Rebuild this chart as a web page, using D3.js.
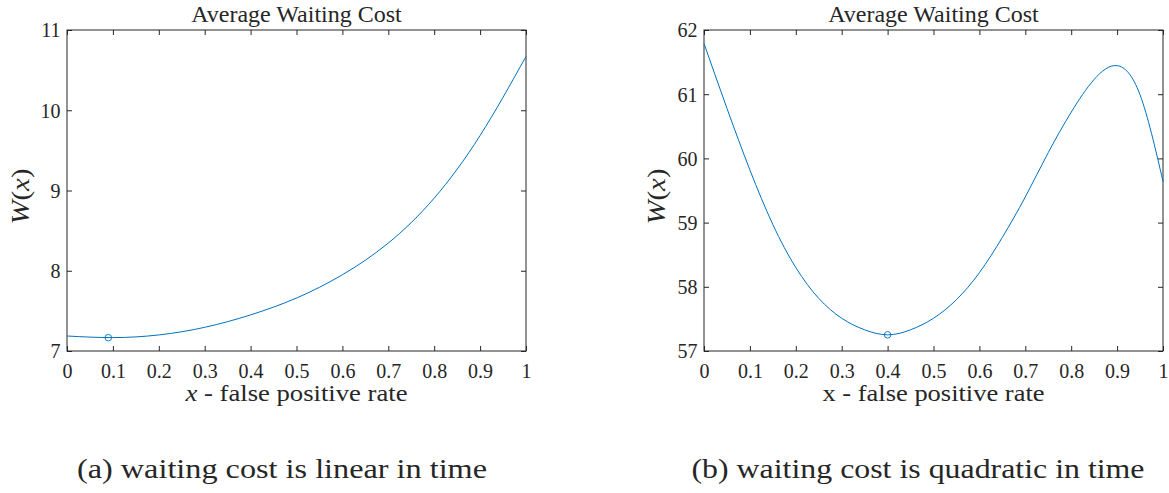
<!DOCTYPE html>
<html>
<head>
<meta charset="utf-8">
<script src="https://cdn.jsdelivr.net/npm/d3@7"></script>
<style>
  html, body { margin: 0; padding: 0; background: #fff; }
  svg { display: block; }
  text { font-family: "Liberation Serif", Tinos, "Times New Roman", Times, serif; fill: #262626; }
</style>
</head>
<body>
<svg id="fig" width="1169" height="493"></svg>
<script>
// Average waiting cost W(x) sampled against the false positive rate x
const xTickValues = [0, 0.1, 0.2, 0.3, 0.4, 0.5, 0.6, 0.7, 0.8, 0.9, 1];

// (a) waiting cost linear in time
const linearX = [0, 0.1, 0.2, 0.3, 0.4, 0.5, 0.6, 0.7, 0.8, 0.9, 1];
const linearW = [7.187, 7.167, 7.20, 7.295, 7.45, 7.66, 7.95, 8.345, 8.905, 9.685, 10.67];
const linearYTicks = [7, 8, 9, 10, 11];
const linearOptimum = { x: 0.09, w: 7.166 };

// (b) waiting cost quadratic in time
const quadX = [0, 0.05, 0.1, 0.15, 0.2, 0.25, 0.3, 0.35, 0.4, 0.45, 0.5,
               0.55, 0.6, 0.65, 0.7, 0.75, 0.8, 0.85, 0.9, 0.95, 1];
const quadW = [61.79, 60.78, 59.82, 58.97, 58.30, 57.82, 57.51, 57.33, 57.252, 57.33, 57.51,
               57.80, 58.22, 58.77, 59.40, 60.09, 60.72, 61.23, 61.445, 60.99, 59.64];
const quadYTicks = [57, 58, 59, 60, 61, 62];
const quadOptimum = { x: 0.4, w: 57.252 };

const titles = ["Average Waiting Cost", "Average Waiting Cost"];
const captions = ["(a) waiting cost is linear in time", "(b) waiting cost is quadratic in time"];

const lineColor = "#0072BD";
const axisColor = "#262626";
const svg = d3.select("#fig");

function panel(opts) {
  const { left, right, top, bottom, xs, ws, yDomain, yTicks, opt, title, xItalic,
          caption, captionX, captionW, ylabX } = opts;
  const x = d3.scaleLinear().domain([0, 1]).range([left, right]);
  const y = d3.scaleLinear().domain(yDomain).range([bottom, top]);
  const g = svg.append("g");
  const tick = 5;

  // bottom axis carries the labels; the other three sides only inward ticks
  const ax = g.append("g").attr("transform", `translate(0,${bottom})`)
    .call(d3.axisBottom(x).tickValues(xTickValues).tickSizeInner(-tick).tickSizeOuter(0)
      .tickFormat(d => d === 0 || d === 1 ? String(d) : d3.format(".1f")(d)));
  ax.selectAll("text").attr("y", 27).attr("dy", null).style("font-size", "20px");

  g.append("g").attr("transform", `translate(0,${top})`)
    .call(d3.axisTop(x).tickValues(xTickValues).tickSizeInner(-tick).tickSizeOuter(0).tickFormat(""));

  const ay = g.append("g").attr("transform", `translate(${left},0)`)
    .call(d3.axisLeft(y).tickValues(yTicks).tickSizeInner(-tick).tickSizeOuter(0).tickFormat(d3.format("d")));
  ay.selectAll("text").attr("x", -6.5).attr("dy", "0.34em").style("font-size", "20px");

  g.append("g").attr("transform", `translate(${right},0)`)
    .call(d3.axisRight(y).tickValues(yTicks).tickSizeInner(-tick).tickSizeOuter(0).tickFormat(""));

  g.selectAll(".domain").remove();
  g.selectAll(".tick line").attr("stroke", axisColor);
  g.selectAll(".tick text").attr("fill", axisColor);

  g.append("rect")
    .attr("x", left).attr("y", top)
    .attr("width", right - left).attr("height", bottom - top)
    .attr("fill", "none").attr("stroke", axisColor).attr("stroke-width", 1);

  // cost curve
  const pts = xs.map((v, i) => [v, ws[i]]);
  g.append("path")
    .datum(pts)
    .attr("fill", "none")
    .attr("stroke", lineColor)
    .attr("stroke-width", 1)
    .attr("d", d3.line().x(d => x(d[0])).y(d => y(d[1])).curve(d3.curveNatural));

  // minimum-cost marker
  g.append("circle")
    .attr("cx", x(opt.x)).attr("cy", y(opt.w)).attr("r", 3.3)
    .attr("fill", "none").attr("stroke", lineColor).attr("stroke-width", 0.9);

  const cx = (left + right) / 2;

  // title
  g.append("text").attr("x", cx).attr("y", 22).attr("text-anchor", "middle")
    .style("font-size", "24px").attr("fill", "#000").text(title);

  // x label
  const xl = g.append("text").attr("x", cx).attr("y", 401).attr("text-anchor", "middle")
    .style("font-size", "23px").attr("fill", axisColor)
    .attr("textLength", 222).attr("lengthAdjust", "spacingAndGlyphs");
  xl.append("tspan").style("font-style", xItalic ? "italic" : "normal").text("x");
  xl.append("tspan").text(" - false positive rate");

  // y label
  const yl = g.append("text")
    .attr("transform", `translate(${ylabX},${(top + bottom) / 2 + 6}) rotate(-90)`)
    .attr("text-anchor", "middle").style("font-size", "25px").attr("fill", axisColor)
    .attr("textLength", 56).attr("lengthAdjust", "spacingAndGlyphs");
  yl.append("tspan").style("font-style", "italic").text("W");
  yl.append("tspan").text("(");
  yl.append("tspan").style("font-style", "italic").text("x");
  yl.append("tspan").text(")");

  // sub-figure caption
  svg.append("text").attr("x", captionX).attr("y", 478).attr("text-anchor", "middle")
    .style("font-size", "27px").attr("fill", "#000")
    .attr("textLength", captionW).attr("lengthAdjust", "spacingAndGlyphs")
    .text(caption);
}

panel({ left: 67, right: 526, top: 30, bottom: 351, xs: linearX, ws: linearW,
        yDomain: [7, 11], yTicks: linearYTicks, opt: linearOptimum, title: titles[0],
        xItalic: true, caption: captions[0], captionX: 282, captionW: 410, ylabX: 29 });
panel({ left: 704, right: 1163, top: 30, bottom: 351, xs: quadX, ws: quadW,
        yDomain: [57, 62], yTicks: quadYTicks, opt: quadOptimum, title: titles[1],
        xItalic: false, caption: captions[1], captionX: 918, captionW: 453, ylabX: 665 });
</script>
</body>
</html>
